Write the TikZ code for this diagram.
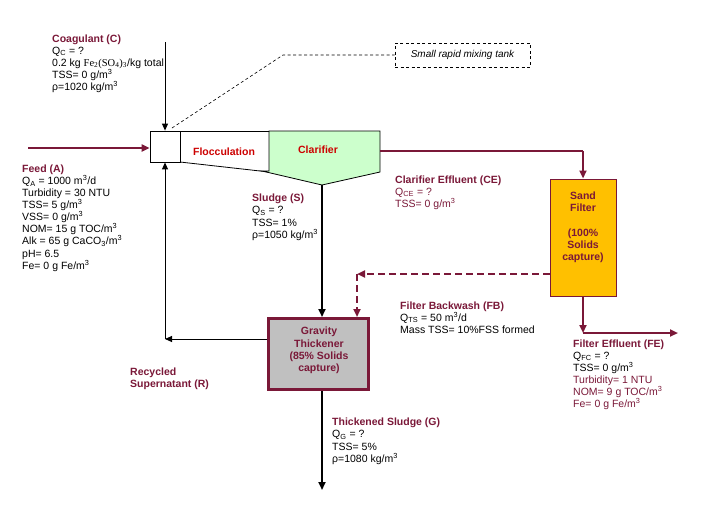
\documentclass[tikz,border=0pt]{standalone}
\usepackage{fontspec}
\setmainfont{Liberation Sans}
\newfontfamily\chemfont{Liberation Serif}
\usetikzlibrary{arrows.meta}
\definecolor{maroon}{HTML}{7A1838}
\definecolor{clargreen}{HTML}{CCFFCC}
\definecolor{sandfill}{HTML}{FFC000}
\definecolor{redlab}{HTML}{CC0000}
\definecolor{greyfill}{HTML}{C0C0C0}
\newcommand{\hdg}[1]{\textcolor{maroon}{\textbf{#1}}}
\newcommand{\mr}[1]{\textcolor{maroon}{#1}}
\begin{document}
\begin{tikzpicture}[x=1pt,y=-1pt,
  lbl/.style={anchor=north west, inner sep=0pt, align=left, font=\fontsize{10.5}{12}\selectfont},
  lblw/.style={anchor=north west, inner sep=0pt, align=left, font=\fontsize{10.5}{12.4}\selectfont},
  boxtxt/.style={inner sep=0pt, align=center, text=maroon, font=\fontsize{10.5}{12.2}\selectfont\bfseries},
  mline/.style={draw=maroon, line width=2.2pt},
  marr/.style={mline, -{Triangle[length=8pt,width=7pt]}},
  mdash/.style={draw=maroon, line width=2pt, dash pattern=on 7pt off 4pt, -{Triangle[length=8pt,width=7pt]}},
  barr/.style={draw=black, line width=2.4pt, -{Triangle[length=8pt,width=7pt]}},
  tarr/.style={draw=black, line width=0.9pt, -{Triangle[length=7pt,width=6pt]}},
]
\useasboundingbox (0,0) rectangle (703,515);

% process units
\node[draw=black, line width=0.8pt, minimum width=30pt, minimum height=31pt, inner sep=0pt] (mix) at (165,146.5) {};
\draw[line width=0.8pt] (180,131) -- (269,131);
\draw[line width=0.8pt] (180,162) -- (269,172);
\draw[line width=0.8pt, fill=clargreen] (269,131) -- (380,131) -- (380,172) -- (322,185) -- (262,171) -- (269,171) -- cycle;
\coordinate (clartip) at (322,185);
\coordinate (clarright) at (380,151);
\node[inner sep=0pt, text=redlab, font=\fontsize{10.5}{12}\selectfont\bfseries] (floctxt) at (224,151.5) {Flocculation};
\node[inner sep=0pt, text=redlab, font=\fontsize{10.5}{12}\selectfont\bfseries] (clartxt) at (318,150) {Clarifier};

\node[draw=maroon, line width=3pt, fill=greyfill, minimum width=100pt, minimum height=71pt, inner sep=0pt] (thick) at (318.5,354) {};
\node[boxtxt] (thicktxt) at (319,350.5) {Gravity\\Thickener\\(85\% Solids\\capture)};

\node[draw=maroon, line width=1pt, fill=sandfill, minimum width=66pt, minimum height=117pt, inner sep=0pt] (sand) at (583,237.5) {};
\node[boxtxt] (sandtxt) at (583,227.5) {Sand\\Filter\\[12.2pt](100\%\\Solids\\capture)};

\node[draw=black, line width=0.6pt, dash pattern=on 3pt off 2.5pt, minimum width=135pt, minimum height=24pt, inner sep=0pt, font=\fontsize{10}{12}\selectfont\itshape] (dashbox) at (462.5,55) {Small rapid mixing tank};

% free ends
\coordinate (feedstart) at (28,148);
\coordinate (coagtop) at (165,42);
\coordinate (reccorner) at (165,339);
\coordinate (gend) at (322,490);
\coordinate (cecorner) at (583,151);
\coordinate (bwcorner) at (357,274);
\coordinate (fecorner) at (583,333);
\coordinate (feend) at (678,333);
\coordinate (callstart) at (172,128);
\coordinate (callbend) at (283,55);

% connectors
\draw[marr] (feedstart) -- (feedstart -| mix.west);
\draw[tarr] (coagtop) -- (mix.north);
\draw[draw=black, line width=0.6pt, dash pattern=on 3pt off 2.5pt] (callstart) -- (callbend) -- (dashbox.west);
\draw[tarr] (thick.west |- reccorner) -- (reccorner);
\draw[tarr] (reccorner) -- (mix.south);
\draw[barr] (clartip) -- (clartip |- thick.north);
\draw[barr] (clartip |- thick.south) -- (gend);
\draw[mline] (clarright) -- (cecorner);
\draw[marr] (cecorner) -- (sand.north);
\draw[mdash] (sand.west |- bwcorner) -- (bwcorner);
\draw[mdash] (bwcorner) -- (bwcorner |- thick.north);
\draw[marr] (sand.south) -- (fecorner);
\draw[marr] (fecorner) -- (feend);

% labels
\node[lbl] (coaglbl) at (52,34.5) {\hdg{Coagulant (C)}\\Q\textsubscript{C} = ?\\0.2 kg {\chemfont Fe\textsubscript{2}(SO\textsubscript{4})\textsubscript{3}}/kg total\\TSS= 0 g/m\textsuperscript{3}\\ρ=1020 kg/m\textsuperscript{3}};
\node[lbl, font=\fontsize{10.5}{12.1}\selectfont] (feedlbl) at (22,164.5) {\hdg{Feed (A)}\\Q\textsubscript{A} = 1000 m\textsuperscript{3}/d\\Turbidity = 30 NTU\\TSS= 5 g/m\textsuperscript{3}\\VSS= 0 g/m\textsuperscript{3}\\NOM= 15 g TOC/m\textsuperscript{3}\\Alk = 65 g CaCO\textsubscript{3}/m\textsuperscript{3}\\pH= 6.5\\Fe= 0 g Fe/m\textsuperscript{3}};
\node[lblw] (sludgelbl) at (252,193.5) {\hdg{Sludge (S)}\\Q\textsubscript{S} = ?\\TSS= 1\%\\ρ=1050 kg/m\textsuperscript{3}};
\node[lbl] (celbl) at (395,175.5) {\hdg{Clarifier Effluent (CE)}\\\mr{Q\textsubscript{CE} = ?}\\\mr{TSS= 0 g/m\textsuperscript{3}}};
\node[lbl] (fblbl) at (400,301.5) {\hdg{Filter Backwash (FB)}\\Q\textsubscript{TS} = 50 m\textsuperscript{3}/d\\Mass TSS= 10\%FSS formed};
\node[lbl] (felbl) at (573,339.5) {\hdg{Filter Effluent (FE)}\\Q\textsubscript{FC} = ?\\TSS= 0 g/m\textsuperscript{3}\\\mr{Turbidity= 1 NTU}\\\mr{NOM= 9 g TOC/m\textsuperscript{3}}\\\mr{Fe= 0 g Fe/m\textsuperscript{3}}};
\node[lbl] (reclbl) at (130,367.5) {\hdg{Recycled}\\\hdg{Supernatant (R)}};
\node[lblw] (glbl) at (332,417.5) {\hdg{Thickened Sludge (G)}\\Q\textsubscript{G} = ?\\TSS= 5\%\\ρ=1080 kg/m\textsuperscript{3}};
\end{tikzpicture}
\end{document}
